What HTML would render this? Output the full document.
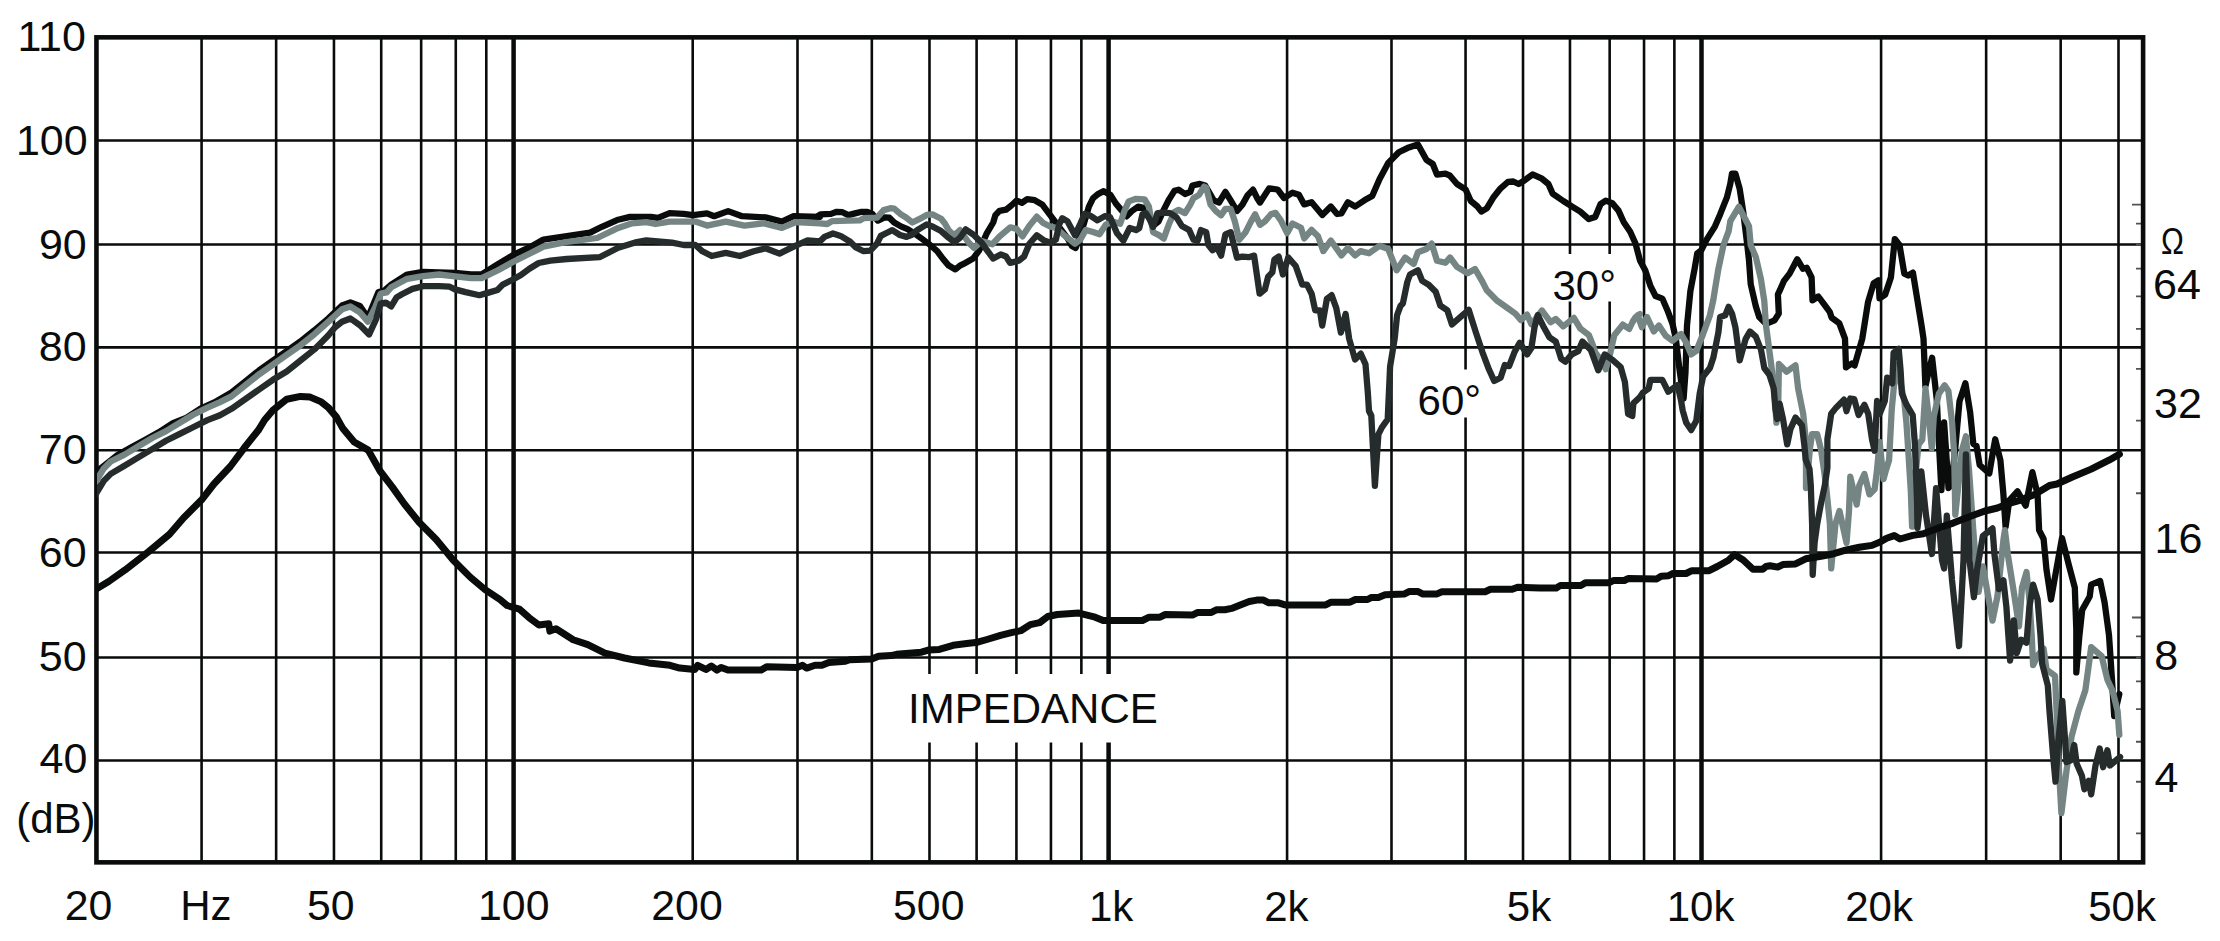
<!DOCTYPE html>
<html><head><meta charset="utf-8"><title>Frequency response</title>
<style>html,body{margin:0;padding:0;background:#fff;width:2220px;height:941px;overflow:hidden}svg{display:block}text{font-family:"Liberation Sans",Arial,Helvetica,sans-serif;fill:#0a0c0c}</style>
</head><body>
<svg width="2220" height="941" viewBox="0 0 2220 941">
<rect x="0" y="0" width="2220" height="941" fill="#fff"/>
<path d="M201.58 37.4V862.4M276.14 37.4V862.4M333.96 37.4V862.4M381.22 37.4V862.4M421.16 37.4V862.4M455.77 37.4V862.4M486.29 37.4V862.4M692.71 37.4V862.4M797.49 37.4V862.4M871.83 37.4V862.4M929.49 37.4V862.4M976.60 37.4V862.4M1016.43 37.4V862.4M1050.94 37.4V862.4M1081.37 37.4V862.4M1287.08 37.4V862.4M1391.49 37.4V862.4M1465.56 37.4V862.4M1523.02 37.4V862.4M1569.97 37.4V862.4M1609.66 37.4V862.4M1644.04 37.4V862.4M1674.37 37.4V862.4M1881.09 37.4V862.4M1986.15 37.4V862.4M2060.68 37.4V862.4M2118.50 37.4V862.4" stroke="#0a0c0c" stroke-width="2.6" fill="none"/>
<path d="M513.60 37.4V862.4M1108.60 37.4V862.4M1701.50 37.4V862.4" stroke="#0a0c0c" stroke-width="4.5" fill="none"/>
<path d="M96.5 140.50H2143.1M96.5 244.50H2143.1M96.5 347.40H2143.1M96.5 450.20H2143.1M96.5 552.50H2143.1M96.5 657.50H2143.1M96.5 760.50H2143.1" stroke="#0a0c0c" stroke-width="2.6" fill="none"/>
<path d="M2132 204.70H2142M2136 223.59H2142M2136 244.70H2142M2136 268.64H2142M2136 296.28H2142M2136 328.97H2142M2136 368.97H2142M2136 420.54H2142M2136 493.23H2142M2132 617.50H2142M2136 636.39H2142M2136 657.50H2142M2136 681.44H2142M2136 709.08H2142M2136 741.77H2142M2136 781.77H2142M2136 833.34H2142" stroke="#505454" stroke-width="1.8" fill="none"/>
<rect x="96.45" y="37.35" width="2046.65" height="825.00" fill="none" stroke="#0a0c0c" stroke-width="4.6"/>
<rect x="1545" y="254" width="76" height="47.5" fill="#fff"/>
<rect x="1411" y="369.5" width="76" height="48" fill="#fff"/>
<rect x="903" y="674" width="262" height="68.5" fill="#fff"/>
<defs><clipPath id="pc"><rect x="97" y="0" width="2043" height="941"/></clipPath></defs>
<g clip-path="url(#pc)">
<polyline points="95.5,472.6 103.8,465.9 117.6,454.9 131.4,447.3 145.3,439.7 159.1,432.1 172.9,423.1 186.7,417.6 200.5,408.6 214.3,402.4 231.5,392.5 245.3,381.5 259.1,370.4 272.9,360.7 286.7,351.1 300.5,341.4 314.4,330.3 328.2,318.6 342.0,305.5 350.4,302.4 359.8,305.9 367.9,317.6 378.5,292.0 384.3,290.7 391.2,284.6 407.2,274.5 423.1,271.9 439.1,272.4 455.0,272.9 470.9,274.5 481.6,274.5 497.5,264.4 513.4,254.9 529.4,247.4 543.4,239.6 566.8,236.1 590.1,232.6 601.8,226.8 618.2,219.7 629.9,216.9 650.9,216.9 657.9,217.9 669.6,213.2 683.7,213.9 693.0,215.1 707.0,213.4 714.1,216.2 728.1,211.1 742.1,216.2 765.5,217.4 781.9,221.6 793.6,216.2 820.0,216.9 815.7,217.7 820.5,214.4 831.0,213.9 836.8,211.8 842.5,212.2 848.3,215.1 855.0,213.4 861.7,211.8 867.4,212.0 872.2,213.9 877.9,220.6 884.6,217.3 889.4,217.7 894.2,222.5 900.9,226.4 907.6,229.2 915.2,234.0 921.9,238.8 929.6,244.5 937.2,251.2 943.0,258.9 948.7,265.6 955.4,269.4 960.0,265.6 963.5,263.9 973.1,258.6 979.4,250.1 986.9,233.1 993.2,222.5 995.4,215.1 999.6,210.8 1006.0,209.7 1011.3,205.5 1016.6,200.7 1021.9,202.8 1027.2,199.1 1034.7,200.2 1042.1,204.4 1048.5,212.9 1054.9,221.4 1061.2,229.9 1067.6,238.4 1071.9,245.9 1075.6,248.0 1079.3,238.4 1083.6,224.6 1088.9,206.6 1093.1,198.1 1098.4,193.8 1103.7,191.2 1110.6,195.1 1115.9,203.6 1121.2,209.9 1126.6,216.3 1131.9,211.0 1138.2,206.7 1143.6,207.8 1148.9,217.4 1153.1,225.9 1158.4,221.6 1163.7,209.9 1169.1,199.3 1174.4,190.8 1178.6,189.7 1185.0,194.0 1190.3,191.9 1192.4,185.5 1199.9,183.9 1205.2,185.5 1209.4,192.9 1213.7,200.4 1219.0,202.5 1225.4,191.9 1230.7,200.4 1237.0,211.0 1242.4,204.6 1247.7,195.1 1253.0,189.7 1257.2,198.2 1260.0,202.5 1269.1,188.4 1277.6,189.5 1284.0,198.0 1292.5,192.7 1298.9,194.8 1304.2,204.4 1311.6,202.3 1322.3,215.0 1330.8,206.5 1337.1,214.0 1341.4,213.3 1347.8,202.3 1355.2,206.5 1364.8,200.1 1372.2,195.9 1379.6,178.9 1388.2,162.9 1398.8,152.3 1407.3,148.1 1417.9,144.5 1426.4,159.8 1432.8,164.0 1437.0,174.6 1445.5,173.6 1450.0,175.7 1457.0,184.0 1465.5,189.3 1470.8,201.0 1477.2,206.3 1481.4,211.6 1486.8,208.4 1493.1,197.8 1500.6,188.3 1508.0,181.9 1513.3,181.5 1518.6,184.0 1524.0,180.8 1532.5,174.4 1542.0,178.7 1548.4,184.0 1552.6,193.6 1563.3,201.0 1571.8,206.3 1580.3,211.6 1588.8,219.1 1595.2,217.0 1600.5,204.2 1605.8,200.6 1612.2,203.1 1618.5,210.6 1623.8,222.3 1630.2,231.8 1635.5,243.5 1640.0,260.5 1645.3,270.5 1650.4,285.8 1655.5,296.0 1662.3,298.6 1667.4,310.2 1672.5,323.8 1675.9,339.1 1679.3,368.0 1683.6,398.6 1685.5,372.0 1687.0,325.5 1690.4,290.9 1694.6,268.8 1697.2,253.5 1701.4,250.1 1706.5,239.9 1715.0,226.3 1720.1,214.4 1726.9,197.4 1730.3,183.8 1732.0,173.6 1735.4,173.6 1739.7,188.9 1743.1,211.0 1745.6,231.4 1747.3,245.0 1749.0,260.3 1750.7,284.1 1755.8,306.2 1759.2,317.0 1766.0,323.8 1774.5,320.4 1778.8,313.6 1777.9,294.3 1780.0,290.0 1783.8,281.2 1789.6,273.6 1797.2,259.2 1803.0,268.8 1806.8,267.8 1811.6,277.4 1812.5,300.3 1818.3,296.5 1824.0,304.2 1829.7,311.8 1831.6,317.6 1839.3,323.3 1845.0,338.6 1846.0,367.3 1851.7,363.5 1854.6,365.4 1862.3,338.6 1868.0,302.2 1873.7,283.1 1878.5,280.3 1879.5,298.4 1885.2,294.6 1890.9,277.4 1894.8,239.1 1899.5,244.9 1904.3,273.6 1908.2,275.5 1912.9,272.6 1921.5,325.2 1923.5,338.6 1925.4,386.4 1929.2,369.2 1932.1,357.7 1934.9,382.6 1936.8,400.0 1939.0,445.0 1941.4,490.0 1943.0,460.0 1944.1,422.5 1946.0,450.0 1948.5,488.0 1951.0,485.0 1953.0,470.0 1955.3,448.0 1959.5,401.3 1965.4,383.2 1970.1,411.9 1973.3,443.8 1976.5,445.9 1979.7,465.0 1989.3,473.5 1992.5,454.4 1995.2,439.3 2000.4,460.2 2003.4,494.4 2005.6,527.1 2009.3,500.3 2017.5,491.4 2025.7,505.6 2032.4,472.1 2037.6,494.4 2039.1,530.1 2043.6,539.0 2046.5,569.8 2051.0,599.5 2055.5,574.2 2062.0,538.0 2068.9,565.3 2074.8,587.6 2076.3,629.3 2076.3,672.4 2079.3,636.7 2082.2,609.9 2089.7,596.5 2091.2,584.6 2100.1,580.9 2104.6,602.5 2109.0,635.2 2112.0,680.0 2114.2,716.1 2119.3,694.0" fill="none" stroke="#0a0c0c" stroke-width="6.3" stroke-linejoin="round" stroke-linecap="round"/>
<polyline points="95.5,482.2 103.8,468.4 110.7,461.5 124.5,454.6 138.4,446.3 152.2,438.0 166.0,431.1 179.8,422.8 193.6,414.5 207.4,407.6 220.0,402.1 231.5,396.4 245.3,385.3 259.1,374.3 272.9,364.6 286.7,354.9 300.5,345.3 314.4,334.2 328.2,321.8 342.0,309.3 350.4,306.5 359.8,312.2 367.9,321.6 375.0,307.6 380.8,293.5 386.7,292.4 391.2,287.3 407.2,278.8 423.1,276.1 439.1,274.5 455.0,276.3 470.9,278.2 481.6,278.2 497.5,270.5 513.4,261.8 529.4,253.8 543.4,246.6 566.8,242.0 597.2,238.0 618.2,227.9 632.2,223.3 646.3,222.1 655.6,224.0 669.6,221.6 695.4,221.6 707.0,225.6 725.8,221.6 744.5,225.6 763.2,223.3 781.9,227.9 795.9,222.1 820.0,223.3 827.2,224.0 832.0,221.1 848.3,220.6 859.7,220.4 863.6,218.2 877.0,217.7 883.7,210.1 890.4,208.2 894.2,208.7 900.9,214.4 905.7,217.3 912.4,222.5 919.1,219.2 926.7,214.9 932.5,214.4 941.1,218.7 944.9,223.5 948.7,230.2 953.5,235.0 957.3,232.6 960.0,230.2 968.8,242.7 974.1,248.0 981.6,241.1 992.2,244.3 999.6,236.3 1010.2,227.3 1016.6,228.9 1022.5,236.3 1029.4,225.7 1036.8,216.7 1043.2,223.0 1050.6,226.7 1055.9,227.8 1065.0,236.0 1075.0,243.7 1080.4,239.5 1085.7,229.9 1093.1,232.1 1099.5,234.2 1105.9,224.6 1112.7,221.6 1120.2,223.7 1124.4,211.0 1128.7,201.4 1136.1,198.8 1144.6,199.3 1148.9,206.7 1151.0,219.5 1153.1,232.2 1159.5,235.4 1163.7,238.6 1169.1,223.7 1174.4,212.1 1178.6,209.9 1185.0,213.1 1190.3,204.6 1193.5,198.2 1198.8,195.1 1204.1,186.6 1206.2,187.6 1210.5,204.6 1215.8,211.0 1221.1,215.2 1225.4,208.9 1230.7,208.9 1234.9,221.6 1239.2,239.7 1245.6,232.2 1250.9,221.6 1255.1,214.2 1260.0,224.8 1264.9,221.4 1271.3,214.0 1275.5,212.9 1280.8,220.3 1287.2,233.1 1292.5,223.5 1301.0,227.8 1304.2,238.4 1311.6,229.9 1318.0,236.3 1323.3,251.1 1330.8,240.5 1341.4,255.4 1347.8,248.0 1355.2,255.4 1360.5,251.1 1369.0,253.3 1379.6,245.8 1388.2,249.0 1396.7,270.3 1405.2,257.5 1413.7,263.9 1417.9,252.2 1426.4,249.0 1431.7,243.7 1437.0,260.7 1445.5,262.8 1450.0,257.5 1457.0,266.9 1467.6,273.3 1475.1,269.0 1482.5,281.8 1486.8,290.3 1497.4,300.9 1508.0,308.3 1515.5,313.7 1520.8,320.0 1527.1,314.7 1531.4,324.3 1542.0,310.5 1550.5,322.2 1555.8,319.0 1563.3,326.4 1573.9,317.9 1580.3,328.5 1588.8,334.9 1593.0,345.5 1595.2,352.3 1601.5,360.8 1605.8,369.3 1610.0,354.4 1614.3,335.3 1622.8,324.6 1629.2,328.9 1632.3,322.5 1635.5,317.2 1640.0,314.0 1633.4,320.4 1637.7,315.3 1641.9,327.2 1647.0,317.0 1653.8,331.5 1658.9,325.5 1665.7,335.7 1672.5,340.8 1681.0,334.0 1686.1,342.5 1691.2,354.4 1696.3,351.0 1703.1,334.0 1709.9,315.3 1713.3,300.0 1715.0,289.2 1718.4,268.8 1723.5,245.0 1728.6,231.4 1730.3,221.2 1738.8,206.8 1749.0,226.3 1750.7,245.0 1755.8,256.9 1760.9,279.0 1764.3,301.1 1766.0,325.5 1769.4,351.0 1772.6,375.5 1775.1,401.0 1776.4,422.7 1778.3,401.0 1778.9,364.0 1786.6,371.7 1795.5,365.3 1798.1,388.3 1803.2,413.8 1805.7,439.3 1806.0,470.0 1806.0,488.0 1808.0,470.0 1810.0,448.0 1812.1,434.2 1817.2,434.2 1821.0,449.5 1824.0,470.0 1826.5,490.0 1829.9,523.8 1831.2,568.4 1835.5,523.8 1839.5,511.0 1846.5,542.9 1849.0,511.0 1850.3,476.6 1856.7,504.6 1859.3,485.5 1864.4,474.0 1869.5,494.4 1874.6,489.3 1877.0,470.0 1879.6,442.0 1883.5,479.1 1886.0,470.0 1889.1,460.0 1891.7,410.0 1894.0,385.0 1897.0,365.0 1900.0,380.0 1904.3,401.3 1906.4,422.5 1908.5,454.4 1910.8,491.0 1912.1,526.7 1915.0,480.0 1918.5,444.6 1922.3,439.5 1925.5,388.5 1928.7,416.5 1931.8,448.4 1933.8,416.5 1938.9,393.6 1944.6,385.3 1948.4,391.0 1952.1,422.5 1954.2,454.4 1955.3,514.6 1960.0,470.0 1962.0,450.0 1965.9,436.3 1969.0,470.0 1974.0,540.0 1978.6,591.9 1982.9,566.4 1992.5,620.6 1997.4,596.5 2003.4,540.0 2004.9,530.1 2007.9,554.9 2013.8,592.1 2019.0,626.3 2022.0,587.6 2026.5,572.0 2029.4,599.5 2031.7,635.2 2033.1,665.0 2038.0,655.0 2043.6,648.6 2046.5,669.4 2052.5,673.9 2055.0,676.0 2057.0,720.0 2059.0,770.0 2061.4,813.1 2066.5,770.6 2071.6,736.5 2078.4,711.0 2085.3,690.6 2091.2,647.1 2101.6,656.1 2107.5,680.0 2112.5,690.6 2117.6,711.0 2119.3,734.8" fill="none" stroke="#748584" stroke-width="6.3" stroke-linejoin="round" stroke-linecap="round"/>
<polyline points="95.5,494.7 103.8,480.9 110.7,473.9 124.5,465.7 138.4,457.4 152.2,449.1 166.0,440.8 179.8,433.9 193.6,427.0 207.4,420.1 220.0,415.2 231.5,408.8 245.3,399.2 259.1,389.5 272.9,379.8 286.7,371.5 300.5,360.5 314.4,349.4 328.2,335.6 335.1,327.3 342.0,321.8 350.4,318.5 359.8,325.1 369.1,334.4 376.1,319.2 380.6,303.7 385.9,302.7 391.2,306.4 396.6,297.4 401.9,294.2 412.5,288.9 423.1,286.2 439.1,286.2 449.7,286.7 455.0,289.4 465.6,292.1 479.4,295.2 486.9,293.1 497.5,289.9 502.8,284.6 513.4,279.3 520.9,275.1 529.4,268.7 538.7,263.0 550.4,260.7 566.8,259.0 599.5,257.2 618.2,247.8 636.9,242.0 646.3,240.3 672.0,242.7 683.7,245.0 695.4,245.0 702.4,251.3 711.7,256.0 725.8,252.9 739.8,256.0 753.8,251.3 765.5,248.3 779.5,253.6 793.6,246.6 807.6,240.3 820.0,241.3 824.4,236.9 833.0,233.5 840.6,235.9 850.2,241.7 855.9,247.4 863.6,251.2 870.3,250.7 877.0,243.6 880.8,235.9 886.5,233.0 892.3,230.2 899.9,235.0 906.6,236.9 911.4,235.0 917.1,230.2 926.7,224.4 932.5,226.4 941.1,231.1 948.7,237.8 954.5,242.1 960.0,237.8 965.6,229.4 974.1,235.2 981.6,242.7 986.9,250.1 993.2,258.6 1000.7,254.4 1006.0,256.5 1010.2,262.9 1018.7,260.7 1024.1,256.5 1029.4,243.7 1036.8,235.2 1044.2,240.6 1050.6,242.7 1055.9,239.5 1059.1,224.6 1062.3,218.2 1067.6,221.4 1075.0,235.2 1080.4,223.6 1084.6,214.0 1091.0,216.1 1097.4,220.4 1104.8,216.1 1110.1,217.2 1117.0,233.3 1123.4,240.7 1129.7,228.0 1136.1,230.1 1139.3,228.0 1142.5,214.2 1145.7,213.1 1149.9,219.5 1153.1,226.9 1157.4,213.1 1163.7,212.6 1170.1,213.1 1176.5,217.4 1181.8,225.9 1189.2,230.1 1193.5,239.7 1197.7,240.7 1200.9,230.1 1206.2,232.2 1208.4,245.0 1212.6,250.3 1216.9,247.1 1221.1,255.6 1225.4,234.4 1230.7,232.2 1233.9,245.0 1237.0,257.7 1242.4,256.7 1248.7,257.2 1254.1,255.6 1259.6,293.7 1264.9,289.4 1268.1,276.7 1272.3,272.4 1274.4,259.6 1278.7,256.5 1282.9,274.5 1288.3,257.5 1295.7,266.0 1302.3,284.7 1307.0,284.7 1311.7,294.0 1315.2,310.4 1319.9,310.4 1322.2,325.6 1326.9,298.7 1331.6,295.2 1336.3,308.1 1340.9,332.6 1345.6,313.9 1349.1,338.5 1355.0,359.5 1360.8,353.7 1365.5,364.2 1367.8,392.3 1369.0,411.0 1371.3,415.7 1374.9,485.8 1378.4,434.4 1381.9,427.4 1387.7,419.2 1390.1,366.5 1394.7,338.5 1397.1,315.1 1400.6,305.7 1402.9,303.4 1407.3,282.0 1410.0,274.5 1417.9,270.3 1422.2,280.9 1428.7,284.7 1435.7,291.7 1440.4,305.7 1447.4,310.4 1452.0,324.4 1460.0,317.4 1468.7,309.8 1476.1,333.1 1482.5,352.3 1488.9,369.3 1494.2,381.0 1500.6,377.8 1504.8,365.0 1509.1,366.1 1514.4,352.3 1519.7,342.7 1527.1,354.4 1531.4,348.0 1534.6,326.8 1537.8,315.1 1544.1,327.8 1549.5,337.4 1555.8,341.6 1561.1,358.6 1565.4,361.8 1571.8,354.4 1578.2,351.2 1582.4,341.6 1590.9,350.1 1598.3,370.3 1604.7,354.4 1612.2,359.7 1620.7,367.1 1624.9,382.0 1628.1,413.9 1632.3,416.0 1633.4,403.3 1640.0,396.9 1642.8,392.7 1648.7,388.4 1650.4,379.9 1662.3,379.9 1668.3,391.8 1677.6,385.0 1681.0,400.3 1682.7,410.5 1686.1,422.4 1691.2,430.1 1696.3,420.7 1699.7,393.5 1703.1,376.5 1709.9,368.0 1713.3,357.8 1718.4,332.3 1720.1,317.0 1725.2,315.3 1728.6,306.8 1732.0,313.6 1735.4,327.2 1739.7,360.4 1745.6,339.1 1749.9,331.5 1755.8,336.6 1760.9,349.3 1764.3,368.0 1769.4,374.8 1773.7,388.4 1775.4,408.8 1777.1,419.0 1779.6,403.7 1783.0,419.0 1787.2,444.4 1790.4,429.1 1795.5,417.6 1801.9,425.2 1804.4,445.6 1805.7,459.7 1809.5,468.9 1810.8,485.5 1812.1,523.8 1812.7,574.8 1814.6,542.9 1817.2,523.8 1821.0,503.4 1824.8,485.5 1827.4,467.7 1827.4,439.3 1831.2,413.8 1836.3,407.4 1844.0,399.7 1846.5,411.2 1850.3,398.5 1854.2,399.1 1858.6,415.0 1864.4,404.8 1868.2,413.8 1872.0,439.3 1874.6,450.7 1877.1,401.0 1879.7,413.8 1884.8,401.0 1887.2,377.6 1892.3,383.4 1893.6,352.8 1898.7,348.9 1900.6,370.6 1901.9,393.6 1906.4,404.4 1912.7,415.2 1914.9,443.8 1917.0,500.0 1917.5,528.0 1919.0,515.0 1921.3,471.4 1926.0,515.0 1931.9,554.0 1936.1,488.1 1942.0,560.0 1944.1,568.5 1946.8,515.7 1952.0,580.0 1959.0,646.1 1963.5,560.0 1965.9,454.4 1969.5,560.0 1973.9,597.2 1977.0,570.0 1982.9,535.9 1992.5,528.4 1994.5,554.9 1998.9,589.1 2003.4,580.2 2006.4,607.0 2010.1,660.5 2013.8,620.3 2016.8,653.1 2021.2,639.7 2026.5,642.7 2029.4,607.0 2033.1,584.6 2037.6,599.5 2040.6,636.7 2042.1,663.5 2047.8,685.5 2049.5,711.0 2052.9,753.6 2055.5,781.6 2058.0,745.0 2062.3,700.8 2064.8,736.5 2066.5,762.1 2070.8,760.4 2074.2,745.0 2076.7,763.8 2081.9,775.7 2084.4,789.3 2088.7,780.8 2091.2,794.4 2095.5,765.5 2099.7,748.5 2103.1,767.2 2107.4,750.2 2109.9,765.5 2120.1,757.0" fill="none" stroke="#262c2c" stroke-width="6.3" stroke-linejoin="round" stroke-linecap="round"/>
<polyline points="95.8,589.3 108.7,581.5 125.1,569.9 148.5,551.8 169.5,534.3 183.5,518.0 202.2,499.2 213.9,484.0 230.3,466.5 244.3,447.8 258.3,430.3 264.6,420.0 272.9,410.2 286.7,399.2 300.5,396.4 310.2,397.1 321.3,401.9 328.2,407.4 336.5,417.1 342.5,427.9 354.2,442.0 368.2,450.1 380.0,471.0 392.2,486.9 404.4,504.0 419.1,522.3 436.2,539.5 453.3,560.2 470.5,577.4 485.1,589.6 499.8,599.4 507.1,605.5 519.4,609.1 529.1,617.7 538.9,625.0 548.7,623.8 549.9,631.1 556.0,628.7 573.2,639.7 587.8,644.6 604.9,653.2 624.5,658.0 648.9,662.9 670.0,665.3 679.7,668.1 694.9,669.4 697.6,665.3 705.9,669.4 711.4,666.0 717.0,670.1 721.1,667.4 728.0,670.1 761.2,670.1 766.7,666.7 797.1,667.4 802.6,665.3 806.7,668.1 815.0,665.3 821.9,665.3 828.8,662.5 845.4,661.2 849.6,659.8 871.7,659.1 878.6,656.3 891.0,655.6 896.5,654.3 921.4,652.2 928.3,650.1 939.3,649.4 953.1,645.3 966.8,643.5 977.6,642.2 987.0,639.5 1000.5,635.4 1011.4,632.7 1020.8,630.7 1030.3,624.6 1039.7,622.6 1047.8,616.5 1057.3,614.5 1078.9,613.1 1087.0,615.1 1095.1,617.2 1103.2,620.5 1108.6,620.5 1142.4,620.5 1149.2,617.2 1160.0,617.2 1165.4,614.5 1192.4,615.1 1197.8,612.4 1211.4,612.4 1216.8,609.7 1224.9,609.7 1231.6,608.4 1238.4,605.7 1249.2,601.5 1256.8,600.1 1263.5,600.1 1268.9,602.8 1278.4,602.8 1285.1,604.9 1325.7,604.9 1331.1,602.2 1350.0,602.2 1355.4,599.5 1367.6,599.5 1371.6,597.4 1378.4,597.4 1385.1,594.7 1404.1,594.1 1409.5,591.4 1417.6,591.4 1423.0,594.1 1436.5,594.1 1441.9,591.8 1485.1,591.8 1490.5,589.3 1512.2,589.3 1517.6,587.3 1540.0,588.1 1556.2,588.1 1560.5,585.4 1581.1,585.4 1585.4,582.7 1609.2,582.7 1613.5,580.5 1624.3,580.5 1628.6,578.4 1656.8,578.9 1661.1,576.2 1668.6,575.7 1673.0,573.5 1686.0,573.5 1691.4,570.8 1708.6,570.8 1717.3,566.5 1728.1,560.5 1734.6,554.6 1743.2,560.0 1753.0,569.2 1762.7,569.2 1766.0,566.5 1770.0,565.8 1777.7,567.1 1782.8,564.6 1795.5,563.9 1805.7,558.8 1821.0,556.3 1833.8,553.7 1846.5,549.9 1859.3,547.3 1872.0,545.4 1880.9,541.6 1886.6,538.2 1894.2,535.6 1900.0,539.0 1912.8,535.4 1923.4,533.8 1937.2,528.4 1953.1,523.1 1969.1,516.8 1985.0,511.0 1997.4,508.0 2009.3,503.3 2019.8,500.3 2034.6,494.4 2049.5,485.5 2057.0,484.0 2071.8,477.3 2091.2,469.1 2109.0,460.2 2119.4,454.2" fill="none" stroke="#0a0c0c" stroke-width="7.0" stroke-linejoin="round" stroke-linecap="round"/>
</g>
<text x="17.40" y="51.20" font-size="43">110</text>
<text x="15.90" y="155.40" font-size="43">100</text>
<text x="38.95" y="259.20" font-size="43">90</text>
<text x="38.75" y="361.20" font-size="43">80</text>
<text x="38.75" y="463.80" font-size="43">70</text>
<text x="38.75" y="567.00" font-size="43">60</text>
<text x="38.75" y="670.50" font-size="43">50</text>
<text x="39.50" y="773.00" font-size="43">40</text>
<text x="16.20" y="833.00" font-size="42">(dB)</text>
<text transform="translate(64.75 920.40) scale(1.02 1)" x="0" y="0" font-size="42">20</text>
<text x="180.15" y="920.40" font-size="42">Hz</text>
<text transform="translate(307.05 920.40) scale(1.02 1)" x="0" y="0" font-size="42">50</text>
<text transform="translate(478.05 920.40) scale(1.02 1)" x="0" y="0" font-size="42">100</text>
<text transform="translate(651.30 920.00) scale(1.02 1)" x="0" y="0" font-size="42">200</text>
<text transform="translate(893.05 920.00) scale(1.02 1)" x="0" y="0" font-size="42">500</text>
<text x="1088.90" y="921.10" font-size="42">1k</text>
<text x="1264.15" y="921.10" font-size="42">2k</text>
<text x="1506.80" y="921.10" font-size="42">5k</text>
<text x="1666.70" y="921.10" font-size="42">10k</text>
<text x="1845.25" y="921.10" font-size="42">20k</text>
<text x="2088.25" y="921.10" font-size="42">50k</text>
<text transform="translate(2161.05 254.15) scale(0.84 1)" x="0" y="0" font-size="36.5">Ω</text>
<text x="2153.05" y="299.20" font-size="43">64</text>
<text x="2154.00" y="418.00" font-size="43">32</text>
<text x="2154.55" y="553.20" font-size="43">16</text>
<text x="2154.30" y="669.60" font-size="43">8</text>
<text x="2154.50" y="792.20" font-size="43">4</text>
<text x="1552.45" y="300.20" font-size="42">30°</text>
<text x="1417.60" y="415.20" font-size="42">60°</text>
<text x="908.05" y="722.60" font-size="42">IMPEDANCE</text>
</svg>
</body></html>
